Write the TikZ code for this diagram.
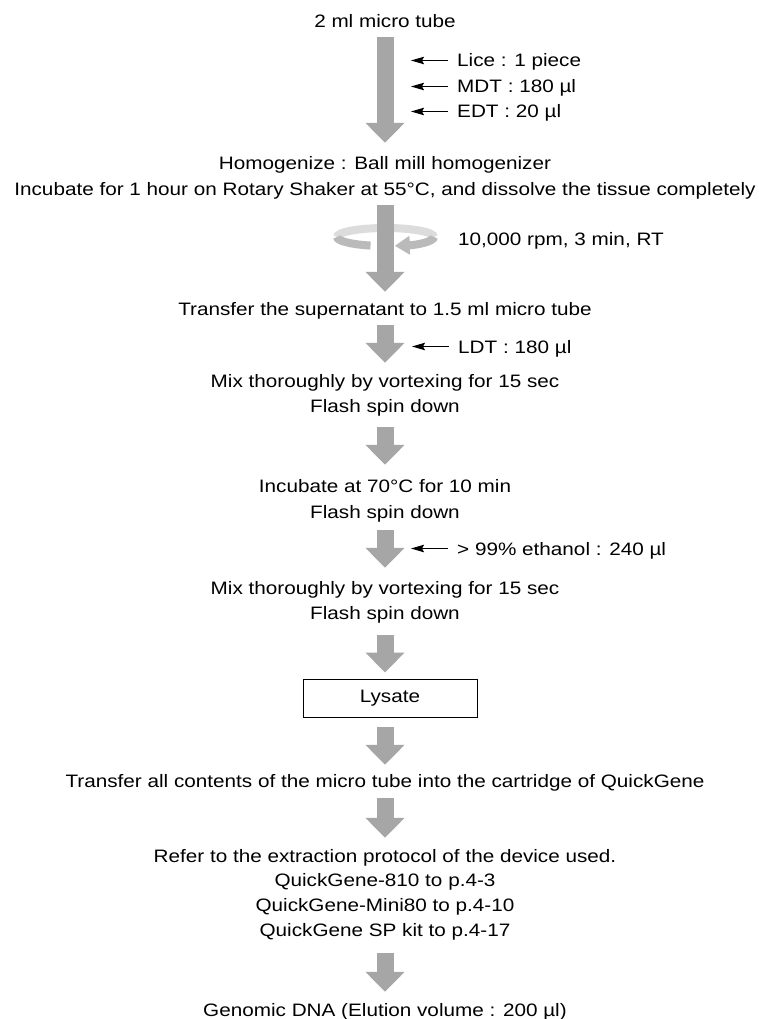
\documentclass[tikz,border=0pt]{standalone}
\usepackage{fontspec}
\setmainfont{Liberation Sans}[FakeStretch=1.15]
\usetikzlibrary{arrows.meta}
\definecolor{flowgray}{RGB}{166,166,166}
\definecolor{ringback}{RGB}{220,220,220}
\definecolor{ringfront}{RGB}{186,186,186}
\tikzset{
	steptext/.style={anchor=base, inner sep=0pt, text height=13pt, text depth=4pt, font=\fontsize{18}{22}\selectfont},
	addtext/.style={steptext, anchor=base west},
	flowarrow/.style={draw=flowgray, line width=17pt, -{Triangle[width=38pt,length=20pt]}},
	addarrow/.style={draw=black, line width=1.2pt, -{Stealth[length=13pt,width=7.5pt,inset=2pt]}}
}

\begin{document}
\begin{tikzpicture}[x=1pt, y=-1pt]
		%%%%% START %%%%%
		\useasboundingbox[fill=white] (0,0) rectangle (759,1019);
		
		\node[steptext] (tube) at (385,28) {2 ml micro tube};
		\node[addtext] (lice) at (457,67) {Lice : 1 piece};
		\node[addtext] (mdt) at (457,93) {MDT : 180 µl};
		\node[addtext] (edt) at (457,118) {EDT : 20 µl};
		\node[steptext] (homog) at (385,170) {Homogenize : Ball mill homogenizer};
		\node[steptext] (incub) at (385,195) {Incubate for 1 hour on Rotary Shaker at 55°C, and dissolve the tissue completely};
		\node[addtext] (spin) at (458,245) {10,000 rpm, 3 min, RT};
		\node[steptext] (super) at (385,315) {Transfer the supernatant to 1.5 ml micro tube};
		\node[addtext] (ldt) at (458,353) {LDT : 180 µl};
		\node[steptext] (mix1) at (385,387) {Mix thoroughly by vortexing for 15 sec};
		\node[steptext] (flash1) at (385,412) {Flash spin down};
		\node[steptext] (heat) at (385,492) {Incubate at 70°C for 10 min};
		\node[steptext] (flash2) at (385,518) {Flash spin down};
		\node[addtext] (etoh) at (457,555) {> 99\% ethanol : 240 µl};
		\node[steptext] (mix2) at (385,594) {Mix thoroughly by vortexing for 15 sec};
		\node[steptext] (flash3) at (385,619) {Flash spin down};
		\node[draw, line width=1pt, inner sep=0pt, minimum width=174pt, minimum height=38pt, font=\fontsize{18}{22}\selectfont] (lysate) at (390,698) {Lysate};
		\node[steptext] (load) at (385,787) {Transfer all contents of the micro tube into the cartridge of QuickGene};
		\node[steptext] (refer) at (385,862) {Refer to the extraction protocol of the device used.};
		\node[steptext] (qg810) at (385,886) {QuickGene-810 to p.4-3};
		\node[steptext] (qgmini) at (385,911) {QuickGene-Mini80 to p.4-10};
		\node[steptext] (qgsp) at (385,936) {QuickGene SP kit to p.4-17};
		\node[steptext] (dna) at (385,1016) {Genomic DNA (Elution volume : 200 µl)};
		
		% reagents added
		\foreach \n in {lice,mdt,edt,ldt,etoh}{
			\coordinate (\n-tip) at ([xshift=-46pt,yshift=6.5pt]\n.base west);
			\draw[addarrow] ([xshift=-9pt,yshift=6.5pt]\n.base west) -- (\n-tip);
		}
		
		% centrifuge ring
		\draw[ringback, line width=8pt] (337,237) arc[start angle=180, end angle=360, x radius=48.5, y radius=9];
		\draw[ringfront, line width=8pt] (337,237) arc[start angle=180, end angle=108, x radius=48.5, y radius=9];
		\draw[ringfront, line width=8pt, -{Triangle[width=18pt,length=15pt]}] (434,237) arc[start angle=0, end angle=79, x radius=48.5, y radius=9];
		
		% main flow
		\draw[flowarrow, shorten <=5pt, shorten >=14pt] (tube.south) -- (homog.north);
		\draw[flowarrow, shorten <=6pt, shorten >=10pt] (incub.south) -- (super.north);
		\draw[flowarrow, shorten <=6pt, shorten >=11pt] (super.south) -- (mix1.north);
		\draw[flowarrow, shorten <=11pt, shorten >=14pt] (flash1.south) -- (heat.north);
		\draw[flowarrow, shorten <=8pt, shorten >=13pt] (flash2.south) -- (mix2.north);
		\draw[flowarrow, shorten <=12pt, shorten >=6pt] (flash3.south) -- (flash3.south |- lysate.north);
		\draw[flowarrow, shorten <=9pt, shorten >=9pt] (load.north |- lysate.south) -- (load.north);
		\draw[flowarrow, shorten <=7pt, shorten >=11pt] (load.south) -- (refer.north);
		\draw[flowarrow, shorten <=13pt, shorten >=11pt] (qgsp.south) -- (dna.north);
		%%%%% END %%%%%
\end{tikzpicture}
\end{document}
